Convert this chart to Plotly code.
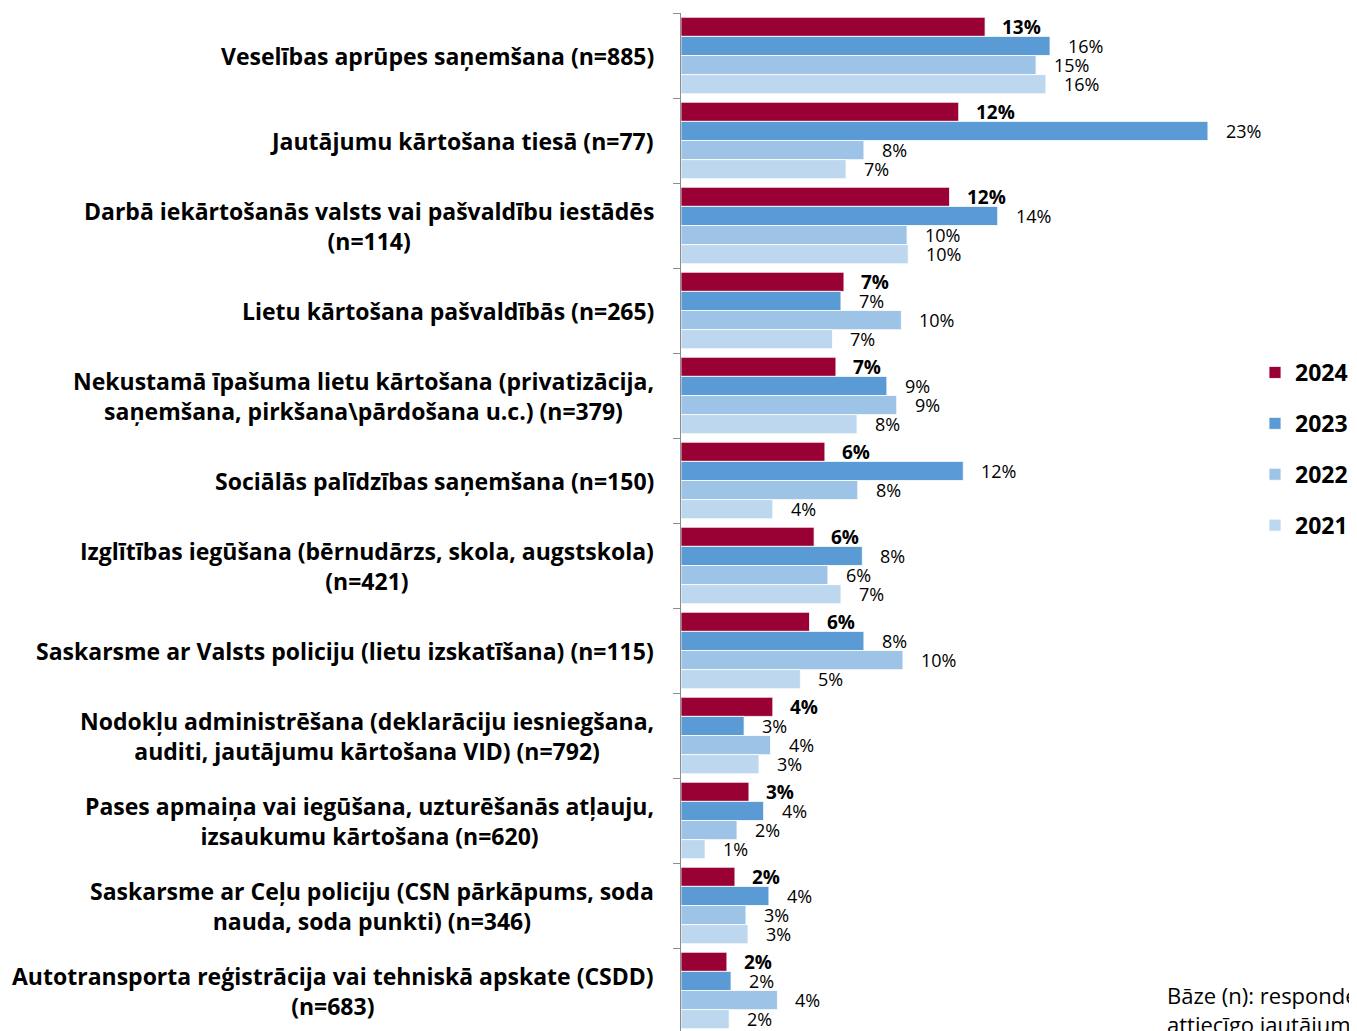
import plotly.graph_objects as go

categories = [
    "Veselības aprūpes saņemšana (n=885)",
    "Jautājumu kārtošana tiesā (n=77)",
    "Darbā iekārtošanās valsts vai pašvaldību iestādēs<br>(n=114)",
    "Lietu kārtošana pašvaldībās (n=265)",
    "Nekustamā īpašuma lietu kārtošana (privatizācija,<br>saņemšana, pirkšana\\pārdošana u.c.) (n=379)",
    "Sociālās palīdzības saņemšana (n=150)",
    "Izglītības iegūšana (bērnudārzs, skola, augstskola)<br>(n=421)",
    "Saskarsme ar Valsts policiju (lietu izskatīšana) (n=115)",
    "Nodokļu administrēšana (deklarāciju iesniegšana,<br>auditi, jautājumu kārtošana VID) (n=792)",
    "Pases apmaiņa vai iegūšana, uzturēšanās atļauju,<br>izsaukumu kārtošana (n=620)",
    "Saskarsme ar Ceļu policiju (CSN pārkāpums, soda<br>nauda, soda punkti) (n=346)",
    "Autotransporta reģistrācija vai tehniskā apskate (CSDD)<br>(n=683)",
]

years = ["2024", "2023", "2022", "2021"]
v2024 = [13.25, 12.1, 11.7, 7.1, 6.75, 6.27, 5.8, 5.6, 4.0, 2.96, 2.35, 2.0]
v2023 = [16.08, 22.96, 13.8, 6.97, 8.97, 12.3, 7.9, 7.97, 2.75, 3.6, 3.83, 2.18]
v2022 = [15.47, 7.97, 9.85, 9.6, 9.4, 7.7, 6.4, 9.67, 3.9, 2.44, 2.83, 4.2]
v2021 = [15.9, 7.19, 9.9, 6.6, 7.67, 4.0, 6.97, 5.2, 3.4, 1.05, 2.92, 2.1]
series = [v2024, v2023, v2022, v2021]
colors = ["#990033", "#5B9BD5", "#9DC3E6", "#BDD7EE"]

FONT = "Open Sans"
OFF = 8                      # page body margin
W, H = 1357 - OFF, 1031 - OFF
AX_X = 681 - OFF             # y-axis line position (figure coords)
TOP = 13 - OFF
ML, MT, MB = AX_X, TOP, 0
px_per_pct = 22.95
pitch = 85.0                 # px per category
plot_w = W - ML
plot_h = H - MT - MB
xmax = plot_w / px_per_pct
ybottom = -0.5 + plot_h / pitch

def px_x(x):  # reference x-pixel -> paper coordinate
    return (x - OFF - ML) / plot_w

def px_y(y):  # reference y-pixel -> paper coordinate
    return 1 - (y - OFF - MT) / plot_h

fig = go.Figure()
for yr, vals, col in zip(years, series, colors):
    fig.add_trace(go.Bar(
        y=categories, x=vals, name=yr, orientation="h",
        marker=dict(color=col, line=dict(color="white", width=0.8)),
        legendgroup=yr,
    ))

annotations = []
n_s = len(series)
group_w = 0.9
for si, (yr, vals) in enumerate(zip(years, series)):
    for ci, v in enumerate(vals):
        offset = (si - (n_s - 1) / 2) * (group_w / n_s)
        txt = f"{round(v):d}%"
        if si == 0:
            txt = f"<b>{txt}</b>"
        annotations.append(dict(
            x=v, y=ci + offset, xref="x", yref="y",
            text=txt, showarrow=False,
            xanchor="left", yanchor="middle", xshift=15 if si == 0 else 16,
            font=dict(family=FONT, size=19 if si == 0 else 18, color="black"),
        ))

for ci, c in enumerate(categories):
    annotations.append(dict(
        x=0, y=ci, xref="paper", yref="y", text=f"<b>{c}</b>",
        showarrow=False, xanchor="right", yanchor="middle", align="center",
        xshift=-25, font=dict(family=FONT, size=23, color="black"),
    ))

annotations.append(dict(
    x=px_x(1165), y=px_y(978), xref="paper", yref="paper",
    text="Bāze (n): respondenti, kuri kārtojuši<br>attiecīgo jautājumu",
    showarrow=False, xanchor="left", yanchor="top", align="left",
    font=dict(family=FONT, size=22, color="black"),
))

fig.update_layout(
    autosize=False,
    width=W, height=H,
    margin=dict(l=ML, r=0, t=MT, b=MB, pad=0, autoexpand=False),
    paper_bgcolor="white", plot_bgcolor="white",
    barmode="group", bargap=1 - group_w, bargroupgap=0,
    showlegend=True,
    legend=dict(
        x=px_x(1255), y=px_y(351),
        xanchor="left", yanchor="top",
        font=dict(family=FONT, size=23, color="black", weight="bold"),
        tracegroupgap=18, bgcolor="rgba(0,0,0,0)",
        itemwidth=30,
    ),
    annotations=annotations,
    font=dict(family=FONT),
)
fig.update_xaxes(range=[0, xmax], showgrid=False, showticklabels=False,
                 zeroline=False, showline=False, ticks="")
fig.update_yaxes(range=[ybottom, -0.5], showticklabels=False, showgrid=False,
                 showline=True, linecolor="#8c8c8c", linewidth=1,
                 ticks="outside", tickson="boundaries", ticklen=7,
                 tickcolor="#8c8c8c", zeroline=False)

fig.write_html("out.html")
